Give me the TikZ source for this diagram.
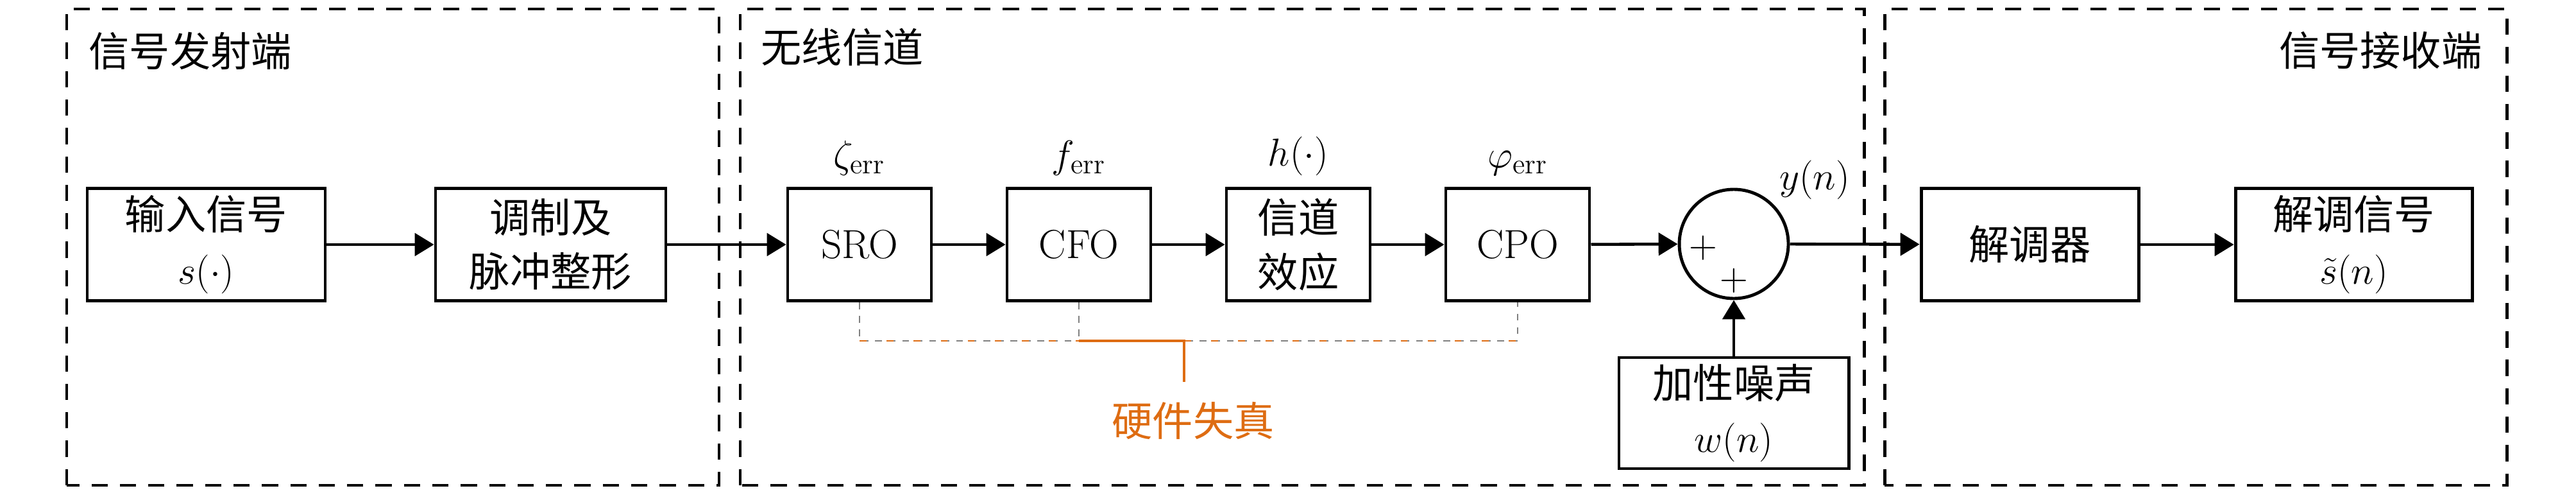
\documentclass[tikz,border=0pt]{standalone}
\usepackage{fontspec}
\newfontfamily\cjk{Noto Sans CJK SC}
\usetikzlibrary{arrows.meta,positioning}
\definecolor{hworange}{RGB}{222,108,18}

\begin{document}
\begin{tikzpicture}[font=\fontsize{18}{24}\selectfont\cjk,
    block/.style={draw, line width=1.4pt, minimum height=1.75cm, align=center, inner sep=2pt},
    part/.style={dash pattern=on 7.2pt off 5.4pt, line width=1.4pt},
    arr/.style={-{Triangle[length=8.5pt,width=10pt]}, line width=1.3pt},
    hwline/.style={gray, dashed, line width=0.7pt}]
        \useasboundingbox (0,0) rectangle (40.16,7.67);
        \draw[part] (1.04,0.11) rectangle (11.21,7.53);
        \draw[part] (11.54,0.11) rectangle (29.06,7.53);
        \draw[part] (29.38,0.11) rectangle (39.08,7.53);
        \node[anchor=west, inner sep=0pt] (txlabel) at (1.38,6.88) {信号发射端};
        \node[anchor=west, inner sep=0pt] (chlabel) at (11.86,6.94) {无线信道};
        \node[anchor=east, inner sep=0pt] (rxlabel) at (38.70,6.88) {信号接收端};

        \node[block, minimum width=3.71cm] (input) at (3.215,3.86) {输入信号\\$s(\cdot)$};
        \node[block, minimum width=3.59cm] (mod) at (8.585,3.86) {调制及\\脉冲整形};
        \node[block, minimum width=2.24cm] (sro) at (13.40,3.86) {{\rmfamily SRO}};
        \node[block, minimum width=2.24cm] (cfo) at (16.82,3.86) {{\rmfamily CFO}};
        \node[block, minimum width=2.24cm] (chan) at (20.24,3.86) {信道\\效应};
        \node[block, minimum width=2.24cm] (cpo) at (23.66,3.86) {{\rmfamily CPO}};
        \node[draw, circle, line width=1.4pt, minimum size=1.7cm] (sum) at (27.03,3.87) {};
        \node (plusa) at (26.55,3.81) {$+$};
        \node (plusb) at (27.03,3.30) {$+$};
        \node[block, minimum width=3.58cm, minimum height=1.73cm] (noise) at (27.03,1.235) {加性噪声\\$w(n)$};
        \node[block, minimum width=3.39cm] (demod) at (31.645,3.86) {解调器};
        \node[block, minimum width=3.69cm] (out) at (36.695,3.86) {解调信号\\$\tilde{s}(n)$};

        \node[above=0.05cm of sro] (zeta) {$\zeta_{\mathrm{err}}$};
        \node[above=0.05cm of cfo] (ferr) {$f_{\mathrm{err}}$};
        \node[above=0.05cm of chan] (hfun) {$h(\cdot)$};
        \node[above=0.05cm of cpo] (phi) {$\varphi_{\mathrm{err}}$};
        \node (yn) at (28.29,4.87) {$y(n)$};

        \draw[arr] (input) -- (mod);
        \draw[arr] (mod) -- (sro);
        \draw[arr] (sro) -- (cfo);
        \draw[arr] (cfo) -- (chan);
        \draw[arr] (chan) -- (cpo);
        \draw[arr] (cpo) -- (sum);
        \draw[arr] (noise) -- (sum);
        \draw[arr] (sum) -- (demod);
        \draw[arr] (demod) -- (out);

        \coordinate (bus) at (18.46,2.36);
        \coordinate (hwend) at (18.46,1.72);
        \draw[hwline] (sro.south) |- (cpo.south |- bus) -- (cpo.south);
        \draw[hwline] (cfo.south) -- (cfo.south |- bus);
        \draw[hworange, dash pattern=on 3pt off 9pt, line width=0.8pt] (sro.south |- bus) -- (cpo.south |- bus);
        \draw[hworange, line width=1pt] (cfo.south |- bus) -- (bus) -- (hwend);
        \node[text=hworange] (hw) at (18.60,1.12) {硬件失真};
\end{tikzpicture}
\end{document}
